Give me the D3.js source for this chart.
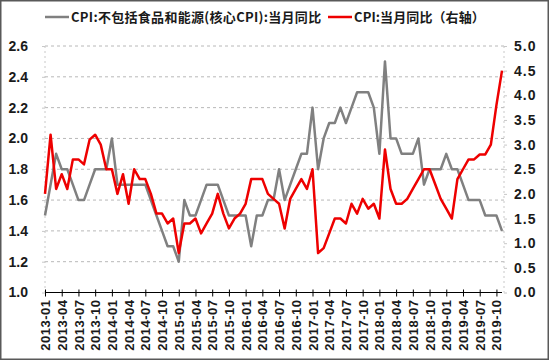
<!DOCTYPE html>
<html><head><meta charset="utf-8">
<script src="https://cdn.jsdelivr.net/npm/d3@7"></script>
<style>
html,body{margin:0;padding:0;background:#fff;}
svg{display:block;}
</style></head>
<body>
<svg id="chart" width="549" height="360"></svg>
<script>
// ---- data ----
const months = [];
for (let y = 2013; y <= 2019; y++) {
  for (let m = 1; m <= 12; m++) {
    if (y === 2019 && m > 11) break;
    months.push(y + "-" + String(m).padStart(2, "0"));
  }
}
const coreCPI = [
  1.5, 1.7, 1.9, 1.8, 1.8, 1.7, 1.6, 1.6, 1.7, 1.8, 1.8, 1.8,
  2.0, 1.7, 1.7, 1.7, 1.7, 1.7, 1.7, 1.6, 1.5, 1.4, 1.3, 1.3,
  1.2, 1.6, 1.5, 1.5, 1.6, 1.7, 1.7, 1.7, 1.6, 1.5, 1.5, 1.5,
  1.5, 1.3, 1.5, 1.5, 1.6, 1.6, 1.8, 1.6, 1.7, 1.8, 1.9, 1.9,
  2.2, 1.8, 2.0, 2.1, 2.1, 2.2, 2.1, 2.2, 2.3, 2.3, 2.3, 2.2,
  1.9, 2.5, 2.0, 2.0, 1.9, 1.9, 1.9, 2.0, 1.7, 1.8, 1.8, 1.8,
  1.9, 1.8, 1.8, 1.7, 1.6, 1.6, 1.6, 1.5, 1.5, 1.5, 1.4
];
const cpi = [
  2.0, 3.2, 2.1, 2.4, 2.1, 2.7, 2.7, 2.6, 3.1, 3.2, 3.0, 2.5,
  2.5, 2.0, 2.4, 1.8, 2.5, 2.3, 2.3, 2.0, 1.6, 1.6, 1.4, 1.5,
  0.8, 1.4, 1.4, 1.5, 1.2, 1.4, 1.6, 2.0, 1.6, 1.3, 1.5, 1.6,
  1.8, 2.3, 2.3, 2.3, 2.0, 1.9, 1.8, 1.3, 1.9, 2.1, 2.3, 2.1,
  2.5, 0.8, 0.9, 1.2, 1.5, 1.5, 1.4, 1.8, 1.6, 1.9, 1.7, 1.8,
  1.5, 2.9, 2.1, 1.8, 1.8, 1.9, 2.1, 2.3, 2.5, 2.5, 2.2, 1.9,
  1.7, 1.5, 2.3, 2.5, 2.7, 2.7, 2.8, 2.8, 3.0, 3.8, 4.5
];
const leftTicks = [1.0, 1.2, 1.4, 1.6, 1.8, 2.0, 2.2, 2.4, 2.6];
const rightTicks = [0.0, 0.5, 1.0, 1.5, 2.0, 2.5, 3.0, 3.5, 4.0, 4.5, 5.0];
const xTickLabels = months.filter((d, i) => i % 3 === 0);
const seriesNames = ["CPI:不包括食品和能源(核心CPI):当月同比", "CPI:当月同比（右轴）"];

// ---- chart ----
const W = 549, H = 360;
const L = 45, R = 502, T = 46, B = 292.5;
const svg = d3.select("#chart");
const numFont = "'Liberation Sans', Arial, sans-serif";
const cjkFont = "'Noto Sans CJK SC', 'Liberation Sans', sans-serif";

svg.append("rect").attr("x", 0.75).attr("y", 0.75).attr("width", W - 1.5).attr("height", H - 1.5)
  .attr("fill", "#fff").attr("stroke", "#595959").attr("stroke-width", 1.5);

const x = d3.scalePoint().domain(months).range([L, R]);
const yL = d3.scaleLinear().domain([1.0, 2.6]).range([B, T]);
const yR = d3.scaleLinear().domain([0, 5]).range([B, T]);

// gridlines
svg.append("g").selectAll("line").data(leftTicks.filter(d => d > 1.0)).join("line")
  .attr("x1", L).attr("x2", R + 2)
  .attr("y1", d => yL(d)).attr("y2", d => yL(d))
  .attr("stroke", "#b8b8b8").attr("stroke-width", 1).attr("stroke-dasharray", "3,3");
// vertical dotted side lines
[L, R + 2].forEach(xx => {
  svg.append("line").attr("x1", xx).attr("x2", xx).attr("y1", T).attr("y2", B)
    .attr("stroke", "#c8c8c8").attr("stroke-width", 1).attr("stroke-dasharray", "2,3");
});

// left axis
const gL = svg.append("g").attr("transform", `translate(${L},0)`)
  .call(d3.axisLeft(yL).tickValues(leftTicks).tickFormat(d3.format(".1f")).tickSize(3).tickPadding(14));
gL.select(".domain").remove();
gL.selectAll(".tick line").attr("stroke", "#c8c8c8");
gL.selectAll("text").attr("font-family", numFont).attr("font-size", 14).attr("font-weight", "bold").attr("fill", "#1a1a1a");

// right axis
const gR = svg.append("g").attr("transform", `translate(${R + 2},0)`)
  .call(d3.axisRight(yR).tickValues(rightTicks).tickFormat(d3.format(".1f")).tickSize(3).tickPadding(7));
gR.select(".domain").remove();
gR.selectAll(".tick line").attr("stroke", "#c8c8c8");
gR.selectAll("text").attr("font-family", numFont).attr("font-size", 14).attr("font-weight", "bold")
  .attr("fill", "#1a1a1a").attr("letter-spacing", "1px");

// x axis
const gX = svg.append("g").attr("transform", `translate(0,${B})`)
  .call(d3.axisBottom(x).tickValues(xTickLabels).tickSize(4).tickPadding(6));
gX.select(".domain").attr("stroke", "#000").attr("stroke-width", 1.2).attr("d", `M${L},0H${R}`);
gX.selectAll(".tick line").attr("stroke", "#000").attr("y1", -3).attr("y2", 4);
gX.selectAll("text")
  .attr("font-family", numFont).attr("font-size", 13).attr("font-weight", "bold").attr("fill", "#1a1a1a")
  .attr("letter-spacing", "0.5px")
  .attr("transform", "rotate(-90)")
  .attr("text-anchor", "end").attr("dy", "0.35em").attr("x", -7).attr("y", 0);

// lines
const lineL = d3.line().x((d, i) => x(months[i])).y(d => yL(d));
const lineR = d3.line().x((d, i) => x(months[i])).y(d => yR(d));
svg.append("path").datum(coreCPI).attr("d", lineL)
  .attr("fill", "none").attr("stroke", "#808080").attr("stroke-width", 2.5).attr("stroke-linejoin", "round");
svg.append("path").datum(cpi).attr("d", lineR)
  .attr("fill", "none").attr("stroke", "#ee0000").attr("stroke-width", 2.5).attr("stroke-linejoin", "round");

// legend
const legend = svg.append("g");
const legItems = [
  {name: seriesNames[0], color: "#808080", x0: 45, ls: "0.3px"},
  {name: seriesNames[1], color: "#ee0000", x0: 328, ls: "0.1px"}
];
legItems.forEach(it => {
  legend.append("line").attr("x1", it.x0).attr("x2", it.x0 + 24).attr("y1", 17).attr("y2", 17)
    .attr("stroke", it.color).attr("stroke-width", 2.5);
  legend.append("text").attr("x", it.x0 + 26).attr("y", 17).attr("dy", "0.35em")
    .attr("font-family", cjkFont).attr("font-size", 13).attr("font-weight", "bold").attr("fill", "#1a1a1a")
    .attr("letter-spacing", it.ls)
    .text(it.name);
});
</script>
</body></html>
